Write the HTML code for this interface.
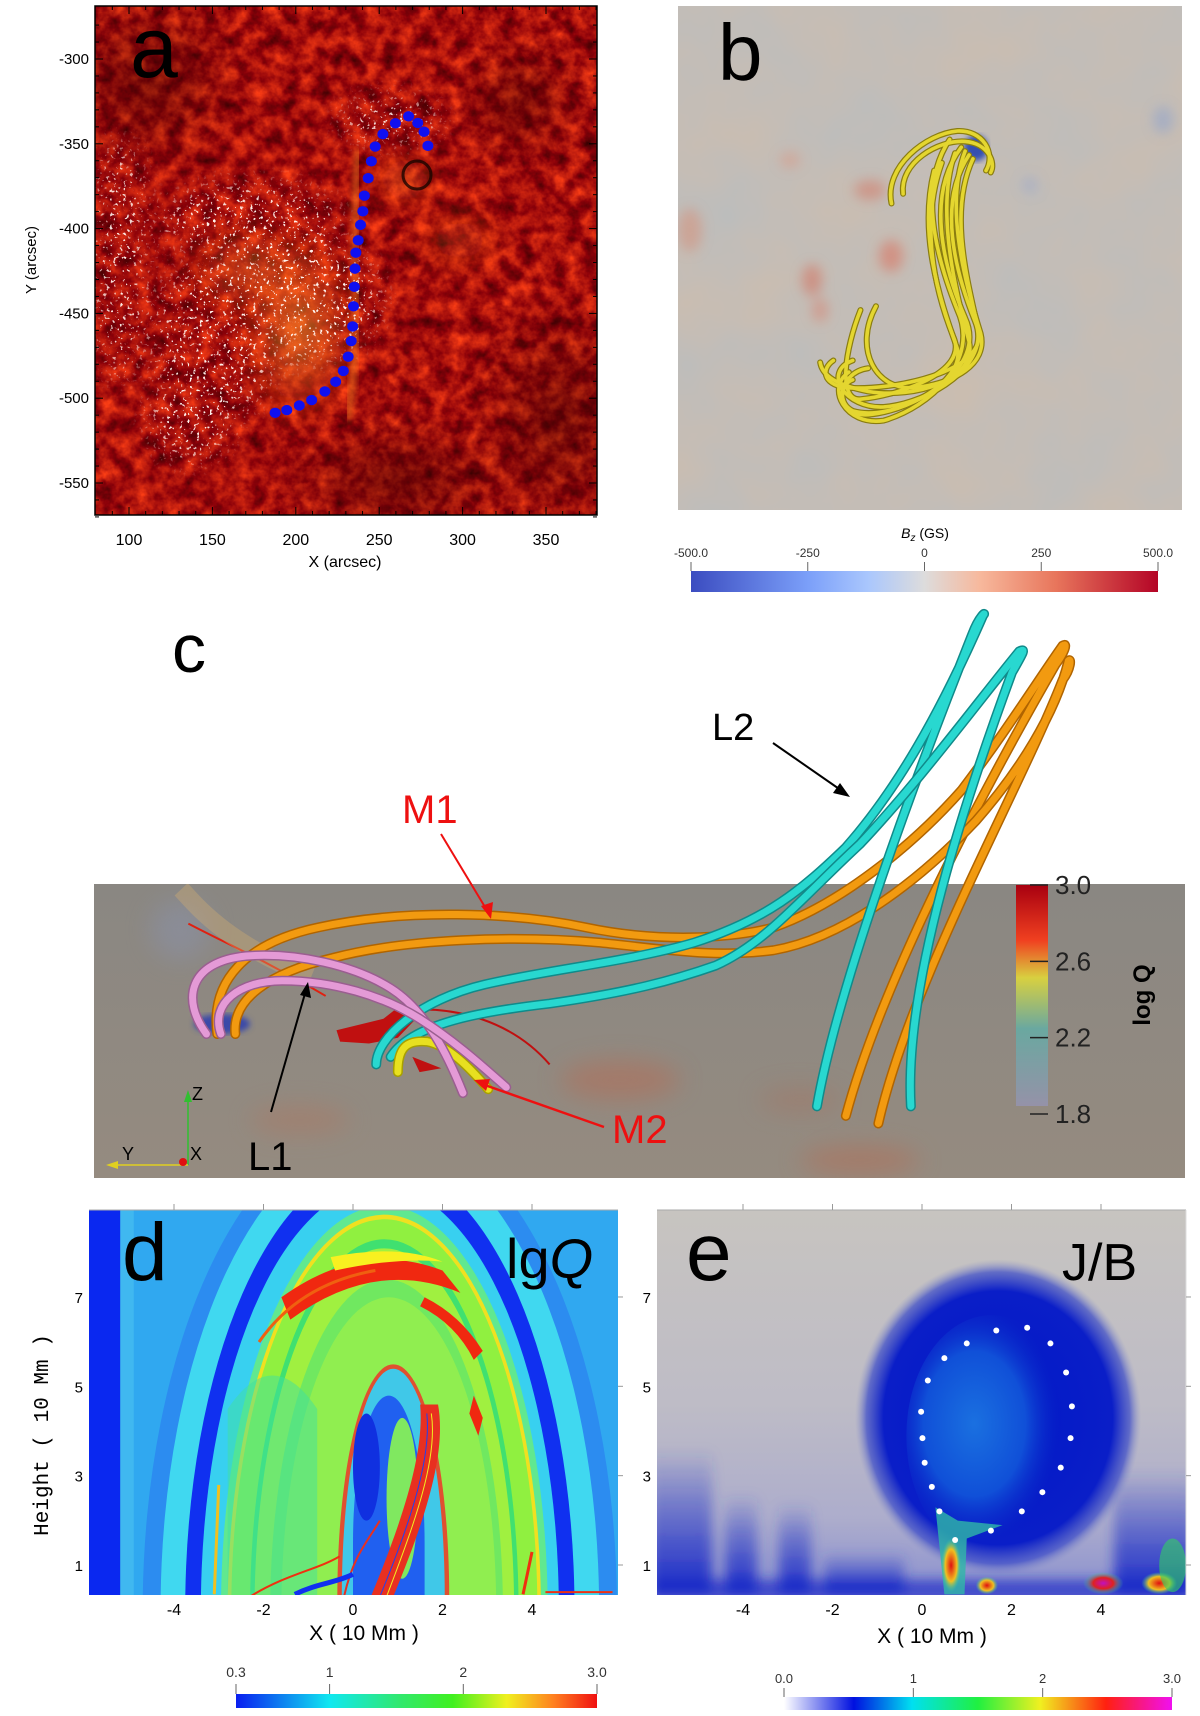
<!DOCTYPE html>
<html><head><meta charset="utf-8"><title>Figure</title>
<style>
html,body{margin:0;padding:0;background:#fff;width:1200px;height:1716px;overflow:hidden;}
svg{display:block;font-family:"Liberation Sans",sans-serif;}
.nar{font-family:"Liberation Sans Narrow","Liberation Sans",sans-serif;}
</style></head>
<body>
<svg id="fig" width="1200" height="1716" viewBox="0 0 1200 1716" xmlns="http://www.w3.org/2000/svg">
<defs>
  <filter id="redtex" x="0" y="0" width="100%" height="100%" color-interpolation-filters="sRGB">
    <feTurbulence type="fractalNoise" baseFrequency="0.06" numOctaves="4" seed="7"/>
    <feColorMatrix type="matrix" values="1.0 0 0 0 0.15  0.55 0 0 0 -0.22  0.1 0 0 0 0  0 0 0 0 1"/>
  </filter>
  <filter id="whitespeck" x="0" y="0" width="100%" height="100%">
    <feTurbulence type="fractalNoise" baseFrequency="0.3" numOctaves="2" seed="3"/>
    <feColorMatrix type="matrix" values="0 0 0 0 1  0 0 0 0 0.9  0 0 0 0 0.85  12 0 0 0 -7.6"/>
  </filter>
  <filter id="btex" x="0" y="0" width="100%" height="100%">
    <feTurbulence type="fractalNoise" baseFrequency="0.012" numOctaves="3" seed="11"/>
    <feColorMatrix type="matrix" values="0.5 0 0 0 0.5  0 0 0 0 0.7  -0.4 0 0 0 0.85  0 0 0 0 0.25"/>
  </filter>
  <filter id="blur6"><feGaussianBlur stdDeviation="6"/></filter>
  <filter id="blur12"><feGaussianBlur stdDeviation="12"/></filter>
  <filter id="blur3"><feGaussianBlur stdDeviation="3"/></filter>
  <radialGradient id="glowA" cx="0.5" cy="0.5" r="0.5">
    <stop offset="0" stop-color="#ff9a30" stop-opacity="0.7"/>
    <stop offset="1" stop-color="#ff6a10" stop-opacity="0"/>
  </radialGradient>
  <radialGradient id="darkA" cx="0.5" cy="0.5" r="0.5">
    <stop offset="0" stop-color="#2a0500" stop-opacity="0.45"/>
    <stop offset="1" stop-color="#2a0500" stop-opacity="0"/>
  </radialGradient>
  <mask id="speckMask">
    <rect x="95" y="6" width="502" height="509" fill="#000"/>
    <g filter="url(#blur12)" fill="#fff">
      <ellipse cx="250" cy="220" rx="90" ry="35"/>
      <ellipse cx="300" cy="300" rx="80" ry="60"/>
      <ellipse cx="215" cy="340" rx="60" ry="80"/>
      <ellipse cx="120" cy="260" rx="25" ry="120"/>
      <ellipse cx="190" cy="420" rx="40" ry="40"/>
      <ellipse cx="390" cy="120" rx="50" ry="20"/>
    </g>
  </mask>
  <linearGradient id="cbB" x1="0" x2="1">
    <stop offset="0" stop-color="#3b4cc0"/><stop offset="0.25" stop-color="#7b9ff9"/>
    <stop offset="0.38" stop-color="#aac7fd"/><stop offset="0.5" stop-color="#dddcdc"/>
    <stop offset="0.62" stop-color="#f7b89c"/><stop offset="0.78" stop-color="#e8765c"/>
    <stop offset="1" stop-color="#b40426"/>
  </linearGradient>
  <linearGradient id="cbD" x1="0" x2="1">
    <stop offset="0" stop-color="#0a1ef0"/><stop offset="0.26" stop-color="#10e8f0"/>
    <stop offset="0.45" stop-color="#30e870"/><stop offset="0.6" stop-color="#40f020"/>
    <stop offset="0.75" stop-color="#f0f020"/><stop offset="0.88" stop-color="#ff8020"/>
    <stop offset="1" stop-color="#f01010"/>
  </linearGradient>
  <linearGradient id="cbE" x1="0" x2="1">
    <stop offset="0" stop-color="#ffffff"/><stop offset="0.18" stop-color="#0010e0"/>
    <stop offset="0.33" stop-color="#00e0f0"/><stop offset="0.5" stop-color="#20f040"/>
    <stop offset="0.66" stop-color="#f0f020"/><stop offset="0.83" stop-color="#ff2010"/>
    <stop offset="1" stop-color="#f010f0"/>
  </linearGradient>
  <linearGradient id="cbQ" x1="0" y1="1" x2="0" y2="0">
    <stop offset="0" stop-color="#9592a8"/><stop offset="0.35" stop-color="#6aa8a0"/>
    <stop offset="0.58" stop-color="#d8d040"/><stop offset="0.75" stop-color="#f04020"/>
    <stop offset="1" stop-color="#a80010"/>
  </linearGradient>
  <linearGradient id="cGray" x1="0" y1="0" x2="0" y2="1">
    <stop offset="0" stop-color="#8a8782"/><stop offset="1" stop-color="#958b80"/>
  </linearGradient>
  <linearGradient id="eBg" x1="0" y1="0" x2="0" y2="1">
    <stop offset="0" stop-color="#c7c4c0"/><stop offset="0.5" stop-color="#bebcc6"/>
    <stop offset="0.8" stop-color="#adadcc"/><stop offset="1" stop-color="#8a90d0"/>
  </linearGradient>
  <linearGradient id="eStreak" x1="0" y1="0" x2="0" y2="1">
    <stop offset="0" stop-color="#3040c8" stop-opacity="0"/>
    <stop offset="0.45" stop-color="#3040c8" stop-opacity="0.55"/>
    <stop offset="1" stop-color="#1020c8" stop-opacity="0.95"/>
  </linearGradient>
  <radialGradient id="eBlob" cx="0.5" cy="0.5" r="0.5">
    <stop offset="0" stop-color="#0018c8"/><stop offset="0.8" stop-color="#0a1ec8"/>
    <stop offset="0.92" stop-color="#3848c8" stop-opacity="0.7"/><stop offset="1" stop-color="#8890c8" stop-opacity="0"/>
  </radialGradient>
  <radialGradient id="eCore" cx="0.4" cy="0.55" r="0.5">
    <stop offset="0" stop-color="#1a70e0"/><stop offset="0.6" stop-color="#1050d8"/>
    <stop offset="1" stop-color="#0a28c8" stop-opacity="0"/>
  </radialGradient>
  <radialGradient id="hotR" cx="0.5" cy="0.5" r="0.5">
    <stop offset="0" stop-color="#e01010"/><stop offset="0.6" stop-color="#f0c020"/><stop offset="1" stop-color="#30d0a0" stop-opacity="0"/>
  </radialGradient>
  <radialGradient id="hotM" cx="0.5" cy="0.5" r="0.5">
    <stop offset="0" stop-color="#c010c0"/><stop offset="0.5" stop-color="#e02020"/><stop offset="1" stop-color="#30d0a0" stop-opacity="0"/>
  </radialGradient>
  <clipPath id="clipA"><rect x="95" y="6" width="502" height="509"/></clipPath>
  <clipPath id="clipB"><rect x="678" y="6" width="504" height="504"/></clipPath>
  <clipPath id="clipC"><rect x="94" y="884" width="1091" height="294"/></clipPath>
  <clipPath id="clipD"><rect x="89" y="1210" width="529" height="385"/></clipPath>
  <clipPath id="clipE"><rect x="657" y="1210" width="529" height="385"/></clipPath>
</defs>

<!-- ================= PANEL A ================= -->
<g>
  <g clip-path="url(#clipA)">
    <rect x="95" y="6" width="502" height="509" fill="#9a1e08"/>
    <rect x="95" y="6" width="502" height="509" filter="url(#redtex)" opacity="0.95"/>
    <g filter="url(#blur12)">
      <ellipse cx="300" cy="330" rx="60" ry="100" fill="url(#glowA)"/>
      <ellipse cx="250" cy="270" rx="70" ry="50" fill="url(#glowA)" opacity="0.6"/>
      <ellipse cx="405" cy="180" rx="35" ry="25" fill="url(#glowA)" opacity="0.7"/>
      <ellipse cx="460" cy="240" rx="50" ry="35" fill="url(#glowA)" opacity="0.4"/>
      <ellipse cx="560" cy="420" rx="90" ry="120" fill="url(#darkA)"/>
      <ellipse cx="150" cy="80" rx="90" ry="90" fill="url(#darkA)"/>
      <ellipse cx="400" cy="480" rx="120" ry="60" fill="url(#darkA)"/>
      <ellipse cx="520" cy="100" rx="60" ry="60" fill="url(#darkA)"/>
    </g>
    <path d="M 358 150 C 350 250, 362 330, 348 420" stroke="#ff8a20" stroke-width="7" fill="none" opacity="0.5" filter="url(#blur3)"/>
    <rect x="95" y="6" width="502" height="509" filter="url(#whitespeck)" mask="url(#speckMask)"/>
    <ellipse cx="417" cy="175" rx="14" ry="14" fill="none" stroke="#1a0500" stroke-width="3" opacity="0.8"/>
  </g>
  <rect x="95" y="6" width="502" height="509" fill="none" stroke="#000" stroke-width="1.5"/>
  <g id="aTicks"></g>
  <g id="aDots"></g>
  <text x="130" y="77" font-size="86" fill="#000">a</text>
  <text x="345" y="567" font-size="16" text-anchor="middle" class="nar">X (arcsec)</text>
  <text transform="translate(36,260) rotate(-90)" font-size="15" text-anchor="middle">Y (arcsec)</text>
</g>

<!-- ================= PANEL B ================= -->
<g>
  <g clip-path="url(#clipB)">
    <rect x="678" y="6" width="504" height="504" fill="#bab3ad"/>
    <rect x="678" y="6" width="504" height="504" filter="url(#btex)"/>
    <g filter="url(#blur6)" opacity="0.7">
      <ellipse cx="891" cy="256" rx="12" ry="16" fill="#d68070"/>
      <ellipse cx="870" cy="190" rx="16" ry="10" fill="#d08878"/>
      <ellipse cx="812" cy="280" rx="10" ry="16" fill="#d08070"/>
      <ellipse cx="820" cy="310" rx="8" ry="12" fill="#d49080"/>
      <ellipse cx="690" cy="230" rx="12" ry="22" fill="#d09a88"/>
      <ellipse cx="790" cy="160" rx="10" ry="8" fill="#d4a090"/>
      <ellipse cx="1163" cy="120" rx="10" ry="14" fill="#9aa8c8"/>
      <ellipse cx="1030" cy="185" rx="8" ry="8" fill="#a4acc6"/>
      <ellipse cx="870" cy="395" rx="10" ry="10" fill="#a4acc6"/>
    </g>
    <ellipse cx="976" cy="148" rx="12" ry="13" fill="#3550b0" filter="url(#blur3)"/>
    <g transform="scale(0.7752,0.3876)" fill="none" stroke-linecap="round">
      <g stroke="#8a7d10" stroke-width="6" id="bTubesDark"></g>
      <g stroke="#e4d630" stroke-width="4" id="bTubes"></g>
    </g>
  </g>
  <text x="718" y="80" font-size="80" fill="#000">b</text>
  <g>
    <text x="925" y="538" font-size="14" text-anchor="middle"><tspan font-style="italic">B</tspan><tspan font-size="10" dy="3" font-style="italic">z</tspan><tspan dy="-3"> (GS)</tspan></text>
    <rect x="691" y="571" width="467" height="21" fill="url(#cbB)"/>
    <g id="bTicks"></g>
  </g>
</g>

<!-- ================= PANEL C ================= -->
<g>
  <g clip-path="url(#clipC)">
    <rect x="94" y="884" width="1091" height="294" fill="url(#cGray)"/>
    <g filter="url(#blur12)" opacity="0.6">
      <ellipse cx="620" cy="1080" rx="60" ry="20" fill="#b0705a"/>
      <ellipse cx="860" cy="1160" rx="60" ry="14" fill="#b07058"/>
      <ellipse cx="300" cy="1120" rx="50" ry="14" fill="#a87a66"/>
      <ellipse cx="800" cy="1100" rx="40" ry="12" fill="#a07868"/>
      <ellipse cx="180" cy="930" rx="30" ry="30" fill="#8a90a4"/>
    </g>
    <ellipse cx="222" cy="1024" rx="28" ry="10" fill="#3a4aa8" filter="url(#blur3)"/>
    <g transform="translate(80,600) scale(0.7225,0.3807)">
      <path d="M 150 850 C 200 900, 260 950, 340 1040" stroke="#e02010" stroke-width="2" vector-effect="non-scaling-stroke" fill="none"/>
      <path d="M 140 760 C 160 800, 200 900, 320 990" stroke="#d8b070" stroke-width="18" vector-effect="non-scaling-stroke" fill="none" opacity="0.35"/>
      <path d="M 355 1130 L 420 1100 L 440 1070 L 470 1090 L 440 1150 L 400 1165 L 360 1160 Z" fill="#c01010"/>
      <path d="M 440 1080 C 520 1060, 600 1110, 650 1220" stroke="#c01010" stroke-width="2" vector-effect="non-scaling-stroke" fill="none"/>
      <path d="M 460 1200 L 500 1230 L 470 1240 Z" fill="#c01010"/>
    </g>
  </g>
  <g transform="translate(80,600) scale(0.7225,0.3807)" fill="none" stroke-linecap="round" id="cTubes"></g>
  <g>
    <rect x="1016" y="885" width="32" height="221" fill="url(#cbQ)"/>
    <g id="qTicks"></g>
    <text transform="translate(1150,995) rotate(-90)" font-size="24" font-weight="bold" text-anchor="middle">log Q</text>
  </g>
  <text x="172" y="672" font-size="68">c</text>
  <text x="712" y="740" font-size="38" class="nar">L2</text>
  <text x="402" y="823" font-size="40" fill="#ee1010" class="nar">M1</text>
  <text x="612" y="1143" font-size="40" fill="#ee1010" class="nar">M2</text>
  <text x="248" y="1170" font-size="40" class="nar">L1</text>
  <g>
    <line x1="773" y1="743" x2="845" y2="793" stroke="#000" stroke-width="2"/>
    <polygon points="850,797 833,793 840,783" fill="#000"/>
    <line x1="441" y1="834" x2="488" y2="912" stroke="#ee1010" stroke-width="2"/>
    <polygon points="491,919 481,906 493,902" fill="#ee1010"/>
    <line x1="271" y1="1112" x2="306" y2="990" stroke="#000" stroke-width="2"/>
    <polygon points="308,982 311,998 300,995" fill="#000"/>
    <line x1="604" y1="1127" x2="482" y2="1084" stroke="#ee1010" stroke-width="2.5"/>
    <polygon points="474,1080 490,1079 486,1091" fill="#ee1010"/>
  </g>
  <g>
    <line x1="188" y1="1165" x2="188" y2="1095" stroke="#30c030" stroke-width="1.5"/>
    <polygon points="188,1090 184,1102 192,1102" fill="#30c030"/>
    <line x1="188" y1="1165" x2="113" y2="1165" stroke="#e0d020" stroke-width="1.5"/>
    <polygon points="106,1165 118,1161 118,1169" fill="#e0d020"/>
    <circle cx="183" cy="1162" r="4" fill="#e01010"/>
    <text x="192" y="1100" font-size="18">Z</text>
    <text x="122" y="1160" font-size="18">Y</text>
    <text x="190" y="1160" font-size="18">X</text>
  </g>
</g>

<!-- ================= PANEL D ================= -->
<g>
  <g clip-path="url(#clipD)">
    <rect x="89" y="1210" width="529" height="385" fill="#30a8f0"/>
    <g transform="translate(353,1610) scale(44.75,-44.67)">
      <rect x="-6" y="0.3" width="0.8" height="8.8" fill="#0a28f0"/>
      <rect x="-5.2" y="0.3" width="0.3" height="8.8" fill="#40b8f0"/>
      <path d="M -4.7 0 A 5.3 11 0 0 0 5.9 0 Z" fill="#2c8cf0"/>
      <path d="M -4.3 0 A 4.9 10.6 0 0 0 5.5 0 Z" fill="#40d8f0"/>
      <path d="M -3.75 0 A 4.35 10 0 0 0 4.95 0 Z" fill="#1030f0"/>
      <path d="M -3.4 0 A 4.0 9.5 0 0 0 4.6 0 Z" fill="#38d0f0"/>
      <path d="M -2.95 0 A 3.65 9.05 0 0 0 4.35 0 Z" fill="#60e890"/>
      <path d="M -2.8 0 A 3.5 8.85 0 0 0 4.2 0 Z" fill="#f0e020"/>
      <path d="M -2.72 0 A 3.42 8.75 0 0 0 4.12 0 Z" fill="#90f040"/>
      <path d="M -2.3 0 A 3.0 8.3 0 0 0 3.7 0 Z" fill="#40e070"/>
      <path d="M -2.2 0 A 2.9 8.1 0 0 0 3.6 0 Z" fill="#a0f040"/>
      <path d="M -1.85 0 A 2.6 7.4 0 0 0 3.35 0 Z" fill="#70e860"/>
      <path d="M -1.6 0 A 2.4 7.0 0 0 0 3.2 0 Z" fill="#90ee50"/>
      <path d="M -2.8 0.3 L -2.8 4.5 Q -1.8 6 -0.8 4.5 L -0.8 0.3 Z" fill="#40e0a0" opacity="0.5"/>
      <path d="M -1.6 7.0 Q 0.2 8.3 2.0 7.6 L 2.4 7.1 Q 0.5 7.9 -1.4 6.5 Z" fill="#f02810"/>
      <path d="M -0.5 7.9 Q 1.0 8.2 2.0 7.8 Q 1.0 7.9 -0.4 7.6 Z" fill="#f8f020"/>
      <path d="M 1.6 7.0 Q 2.4 6.6 2.9 5.8 L 2.7 5.6 Q 2.3 6.4 1.5 6.8 Z" fill="#f02810"/>
      <path d="M 2.7 4.8 L 2.9 4.3 L 2.8 3.9 L 2.6 4.4 Z" fill="#f02810"/>
      <path d="M -2.1 6.0 Q -1.2 7.3 0.5 7.6" stroke="#f06010" stroke-width="3" vector-effect="non-scaling-stroke" fill="none"/>
      <path d="M -0.35 0.3 A 1.25 5.2 0 0 0 2.15 0.3 Z" fill="#e05030"/>
      <path d="M -0.25 0.3 A 1.15 5.1 0 0 0 2.05 0.3 Z" fill="#40c8e8"/>
      <path d="M 0 0.3 L 0 1.5 A 0.8 3.3 0 0 0 1.6 1.5 L 1.6 0.3 Z" fill="#2060f0"/>
      <ellipse cx="1.1" cy="2.5" rx="0.35" ry="1.8" fill="#80e860"/>
      <ellipse cx="0.3" cy="3.2" rx="0.3" ry="1.2" fill="#1030e0"/>
      <path d="M 1.9 4.6 C 2.1 3.5, 1.6 2.0, 0.9 0.3 L 0.4 0.3 C 1.1 2.0, 1.6 3.5, 1.5 4.6 Z" fill="#e83020"/>
      <path d="M 1.75 4.4 C 1.9 3.4, 1.4 2.0, 0.75 0.3" stroke="#f0f020" stroke-width="1" vector-effect="non-scaling-stroke" fill="none"/>
      <path d="M 1.65 4.4 C 1.75 3.4, 1.3 2.0, 0.6 0.3" stroke="#2040f0" stroke-width="1" vector-effect="non-scaling-stroke" fill="none"/>
      <path d="M -0.2 0.3 C 0 1.2, 0.3 1.5, 0.6 2.0" stroke="#e83020" stroke-width="2" vector-effect="non-scaling-stroke" fill="none"/>
      <path d="M -2.3 0.3 C -1.5 0.8, -0.8 0.9, -0.3 1.2" stroke="#f03010" stroke-width="2" vector-effect="non-scaling-stroke" fill="none"/>
      <path d="M -1.3 0.35 C -0.8 0.6, -0.4 0.6, 0 0.8" stroke="#1030f0" stroke-width="5" vector-effect="non-scaling-stroke" fill="none"/>
      <path d="M 3.8 0.35 L 4.0 1.3" stroke="#f03010" stroke-width="3" vector-effect="non-scaling-stroke"/>
      <path d="M 4.3 0.4 L 5.8 0.4" stroke="#f03010" stroke-width="2" vector-effect="non-scaling-stroke"/>
      <path d="M -3.1 0.35 L -3.0 2.8" stroke="#f0c020" stroke-width="3" vector-effect="non-scaling-stroke"/>
    </g>
  </g>
  <line x1="89" y1="1210" x2="618" y2="1210" stroke="#aaa" stroke-width="1"/>
  <g id="dTicks"></g>
  <text x="122" y="1280" font-size="82">d</text>
  <text x="506" y="1278" font-size="56">lg<tspan font-style="italic">Q</tspan></text>
  <text x="364" y="1640" font-size="21" text-anchor="middle" class="nar">X ( 10 Mm )</text>
  <text transform="translate(48,1435) rotate(-90)" font-size="21" text-anchor="middle" font-family="Liberation Mono, monospace">Height ( 10 Mm )</text>
  <g>
    <rect x="236" y="1694" width="361" height="14" fill="url(#cbD)"/>
    <g id="dcTicks"></g>
  </g>
</g>

<!-- ================= PANEL E ================= -->
<g>
  <g clip-path="url(#clipE)">
    <rect x="657" y="1210" width="529" height="385" fill="url(#eBg)"/>
    <g filter="url(#blur6)">
      <rect x="650" y="1449" width="62" height="146" fill="url(#eStreak)"/>
      <rect x="725" y="1494" width="32" height="101" fill="url(#eStreak)"/>
      <rect x="779" y="1503" width="32" height="92" fill="url(#eStreak)"/>
      <rect x="824" y="1552" width="80" height="43" fill="url(#eStreak)"/>
      <rect x="1114" y="1470" width="80" height="125" fill="url(#eStreak)"/>
      <rect x="650" y="1580" width="540" height="20" fill="#1828c8" opacity="0.7"/>
    </g>
    <g transform="translate(922,1610) scale(44.75,-44.67)">
      <ellipse cx="1.7" cy="4.3" rx="3.2" ry="3.55" fill="url(#eBlob)"/>
      <ellipse cx="1.55" cy="3.9" rx="1.9" ry="2.7" fill="url(#eCore)"/>
      <path d="M 0.3 2.3 L 0.5 0.35 L 0.95 0.35 L 1.0 1.6 L 1.8 1.9 L 0.8 2.0 Z" fill="#30b8a8" opacity="0.8"/>
      <ellipse cx="0.65" cy="1.0" rx="0.22" ry="0.6" fill="url(#hotR)"/>
      <ellipse cx="1.45" cy="0.55" rx="0.25" ry="0.2" fill="url(#hotR)"/>
      <ellipse cx="4.05" cy="0.6" rx="0.45" ry="0.25" fill="url(#hotM)"/>
      <ellipse cx="5.3" cy="0.6" rx="0.4" ry="0.25" fill="url(#hotR)"/>
      <ellipse cx="5.6" cy="1.0" rx="0.3" ry="0.6" fill="#30d060" opacity="0.6"/>
    </g>
  </g>
  <line x1="657" y1="1210" x2="1186" y2="1210" stroke="#aaa" stroke-width="1"/>
  <line x1="1186" y1="1210" x2="1186" y2="1595" stroke="#ddd" stroke-width="1"/>
  <g id="eTicks"></g>
  <g id="eDots"></g>
  <text x="686" y="1280" font-size="82">e</text>
  <text x="1062" y="1280" font-size="52">J/B</text>
  <text x="932" y="1643" font-size="21" text-anchor="middle" class="nar">X ( 10 Mm )</text>
  <g>
    <rect x="784" y="1697" width="388" height="13" fill="url(#cbE)"/>
    <g id="ecTicks"></g>
  </g>
</g>
</svg>

<script>
// ---------- data ----------
const aDotX = [187.6,194.6,202.1,209.5,217.4,223.9,228.5,231.4,233.2,234.1,234.6,235.1,235.5,236.0,237.4,238.8,240.2,241.1,243.4,245.3,247.6,252.2,259.7,267.6,273.1,276.9,279.2];
const aDotY = [-508.6,-507.0,-504.3,-501.1,-496.0,-490.3,-483.9,-475.5,-466.3,-457.7,-445.8,-434.3,-423.6,-414.2,-406.9,-397.8,-389.8,-380.6,-370.3,-360.3,-351.6,-344.3,-337.9,-333.8,-337.7,-342.9,-351.2];
const aXTicks = [100,150,200,250,300,350];
const aYTicks = [-300,-350,-400,-450,-500,-550];
const eDotX = [1.66,2.35,2.87,3.22,3.35,3.32,3.10,2.69,2.23,1.54,0.74,0.39,0.22,0.06,0.01,-0.02,0.13,0.50,1.00];
const eDotH = [6.25,6.31,5.96,5.31,4.55,3.84,3.18,2.63,2.20,1.77,1.56,2.20,2.75,3.29,3.84,4.43,5.13,5.63,5.96];
const mmXTicks = [-4,-2,0,2,4];
const mmYTicks = [1,3,5,7];
const bzTicks = [-500,-250,0,250,500];
const bzLabels = ["-500.0","-250","0","250","500.0"];
const qTicks = [3.0,2.6,2.2,1.8];
const dcTicks = [0.3,1,2,3.0];
const dcLabels = ["0.3","1","2","3.0"];
const ecTicks = [0,1,2,3];
const ecLabels = ["0.0","1","2","3.0"];

const NS = "http://www.w3.org/2000/svg";
function mk(tag, attrs, parent){ const e=document.createElementNS(NS,tag); for(const k in attrs) e.setAttribute(k,attrs[k]); parent.appendChild(e); return e; }

const ax = x => 129 + (x-100)*1.668;
const ay = y => 59 + (-300 - y)*1.696;
const dx = x => 353 + x*44.75;
const ex = x => 922 + x*44.75;
const hy = h => 1565 - (h-1)*44.67;
const bzx = v => 691 + (v+500)/1000*467;
const qy = v => 885 + (3.0-v)/1.2*229;
const dcx = v => 236 + (v-0.3)/2.7*361;
const ecx = v => 784 + v/3*388;

const aT = document.getElementById('aTicks');
for(let v=90; v<=380; v+=10){
  const L = v%50===0?8:4;
  mk('line',{x1:ax(v),x2:ax(v),y1:515,y2:515-L,stroke:'#000','stroke-width':1},aT);
  mk('line',{x1:ax(v),x2:ax(v),y1:6,y2:6+L,stroke:'#000','stroke-width':1},aT);
}
for(let v=-570; v<=-280; v+=10){
  const L = v%50===0?8:4;
  mk('line',{x1:95,x2:95+L,y1:ay(v),y2:ay(v),stroke:'#000','stroke-width':1},aT);
  mk('line',{x1:597,x2:597-L,y1:ay(v),y2:ay(v),stroke:'#000','stroke-width':1},aT);
}
aXTicks.forEach(v=>{ const t=mk('text',{x:ax(v),y:545,'font-size':16,'text-anchor':'middle','class':'nar'},aT); t.textContent=v;
  
   });
aYTicks.forEach(v=>{ const t=mk('text',{x:89,y:ay(v)+5,'font-size':15,'text-anchor':'end','class':'nar'},aT); t.textContent=v;
  
   });
const aD = document.getElementById('aDots');
aDotX.forEach((x,i)=>{ const c=mk('ellipse',{cx:ax(x),cy:ay(aDotY[i]),rx:5.5,ry:5.2,fill:'#1010f0'},aD);
  
   });

const bPaths = [
 "M 1150 525 C 1140 430, 1195 345, 1235 338 C 1268 335, 1285 395, 1272 440",
 "M 1165 500 C 1160 420, 1210 360, 1245 365 C 1275 370, 1285 420, 1278 445",
 "M 1225 360 C 1185 480, 1205 650, 1235 800 C 1265 930, 1200 1050, 1140 1085 C 1090 1100, 1065 1000, 1095 960",
 "M 1240 380 C 1195 500, 1215 680, 1245 820 C 1275 950, 1180 1060, 1120 1070 C 1070 1075, 1080 960, 1120 950",
 "M 1250 400 C 1210 520, 1230 690, 1258 830 C 1280 940, 1200 1040, 1140 1050 C 1090 1055, 1060 960, 1100 930",
 "M 1255 410 C 1225 540, 1245 700, 1262 850 C 1275 960, 1150 1010, 1090 1000 C 1060 990, 1060 950, 1075 930",
 "M 1215 420 C 1190 560, 1200 720, 1230 870 C 1250 960, 1160 1020, 1110 1030 C 1080 1035, 1090 900, 1110 800",
 "M 1232 395 C 1210 520, 1225 700, 1250 880 C 1262 980, 1180 1030, 1120 1010 C 1070 990, 1060 960, 1058 935",
 "M 1205 440 C 1185 600, 1210 760, 1235 900 C 1245 990, 1150 1090, 1100 1060 C 1080 1040, 1085 990, 1100 980",
 "M 1245 390 C 1220 520, 1240 700, 1265 860 C 1275 940, 1230 990, 1180 1000 C 1130 1010, 1100 900, 1130 790"
];
const bD=document.getElementById('bTubesDark'), bT=document.getElementById('bTubes');
bPaths.forEach(d=>{
  mk('path',{d:d,'vector-effect':'non-scaling-stroke'},bD);
  const p=mk('path',{d:d,'vector-effect':'non-scaling-stroke','stroke-width':3.6},bT);
  
  
});
const bTk=document.getElementById('bTicks');
bzTicks.forEach((v,i)=>{ mk('line',{x1:bzx(v),x2:bzx(v),y1:562,y2:571,stroke:'#666'},bTk);
  const t=mk('text',{x:bzx(v),y:557,'font-size':12,'text-anchor':'middle',fill:'#333','class':'nar'},bTk); t.textContent=bzLabels[i];
  
   });

const cTubes = [
 ["#b06400","#f29a10","M 190 1140 C 180 1000, 230 900, 330 860 C 450 810, 600 820, 700 860 C 800 900, 900 890, 960 860 C 1050 800, 1150 650, 1220 500 C 1280 350, 1330 200, 1360 120 C 1368 110, 1362 140, 1350 170 C 1250 500, 1110 1000, 1060 1355"],
 ["#b06400","#f29a10","M 215 1140 C 210 1050, 260 980, 350 940 C 450 890, 600 880, 720 900 C 820 920, 880 940, 960 920 C 1050 890, 1150 760, 1240 580 C 1300 450, 1350 300, 1368 160 C 1372 150, 1372 180, 1360 210 C 1300 500, 1150 1000, 1105 1375"],
 ["#108a8a","#28d8d0","M 410 1220 C 410 1150, 470 1050, 560 1010 C 650 970, 760 950, 850 900 C 950 840, 1000 760, 1060 650 C 1130 500, 1190 300, 1250 40 C 1255 30, 1245 40, 1235 90 C 1170 400, 1050 1000, 1020 1330"],
 ["#108a8a","#28d8d0","M 430 1200 C 460 1110, 560 1080, 650 1060 C 760 1030, 820 1000, 880 960 C 950 900, 1000 780, 1080 640 C 1160 480, 1250 250, 1300 135 C 1310 125, 1305 140, 1290 190 C 1230 500, 1140 1000, 1150 1330"],
 ["#a8a000","#e8e020","M 440 1240 C 440 1180, 450 1155, 480 1160 C 510 1170, 540 1230, 565 1285"],
 ["#9a5e90","#e49ad6","M 175 1140 C 140 1050, 150 950, 230 935 C 300 925, 380 960, 430 1020 C 480 1080, 510 1200, 530 1295"],
 ["#9a5e90","#e49ad6","M 195 1140 C 180 1060, 220 1000, 280 1000 C 350 1000, 420 1040, 470 1100 C 520 1160, 560 1230, 590 1280"]
];
const cG=document.getElementById('cTubes');
cTubes.forEach(t=>{
  mk('path',{d:t[2],stroke:t[0],'stroke-width':10,'vector-effect':'non-scaling-stroke'},cG);
  const p=mk('path',{d:t[2],stroke:t[1],'stroke-width':7,'vector-effect':'non-scaling-stroke'},cG);
  
  
});
const qT=document.getElementById('qTicks');
qTicks.forEach(v=>{ const y=Math.min(qy(v),1114); mk('line',{x1:1030,x2:1048,y1:y,y2:y,stroke:'#222','stroke-width':1.5},qT);
  const t=mk('text',{x:1055,y:y+9,'font-size':26,'class':'nar',fill:'#222'},qT); t.textContent=v.toFixed(1);
  
   });

function mmTicks(gid, xf, left, right){
  const g=document.getElementById(gid);
  mmXTicks.forEach(v=>{ mk('line',{x1:xf(v),x2:xf(v),y1:1210,y2:1204,stroke:'#999'},g);
    const t=mk('text',{x:xf(v),y:1615,'font-size':16,'text-anchor':'middle','class':'nar'},g); t.textContent=v;
    
     });
  mmYTicks.forEach(v=>{ mk('line',{x1:right,x2:right+5,y1:hy(v),y2:hy(v),stroke:'#999'},g);
    const t=mk('text',{x:left-6,y:hy(v)+6,'font-size':15,'text-anchor':'end','class':'nar'},g); t.textContent=v;
    
     });
}
mmTicks('dTicks',dx,89,618);
mmTicks('eTicks',ex,657,1186);
const eD=document.getElementById('eDots');
eDotX.forEach((x,i)=>{ const c=mk('circle',{cx:ex(x),cy:hy(eDotH[i]),r:3,fill:'#fff'},eD);
  
   });
const dcT=document.getElementById('dcTicks');
dcTicks.forEach((v,i)=>{ mk('line',{x1:dcx(v),x2:dcx(v),y1:1684,y2:1694,stroke:'#666'},dcT);
  const t=mk('text',{x:dcx(v),y:1677,'font-size':14,'text-anchor':'middle','class':'nar',fill:'#333'},dcT); t.textContent=dcLabels[i];
  
   });
const ecT=document.getElementById('ecTicks');
ecTicks.forEach((v,i)=>{ mk('line',{x1:ecx(v),x2:ecx(v),y1:1688,y2:1697,stroke:'#666'},ecT);
  const t=mk('text',{x:ecx(v),y:1683,'font-size':13,'text-anchor':'middle','class':'nar',fill:'#333'},ecT); t.textContent=ecLabels[i];
  
   });
</script>
</body></html>
